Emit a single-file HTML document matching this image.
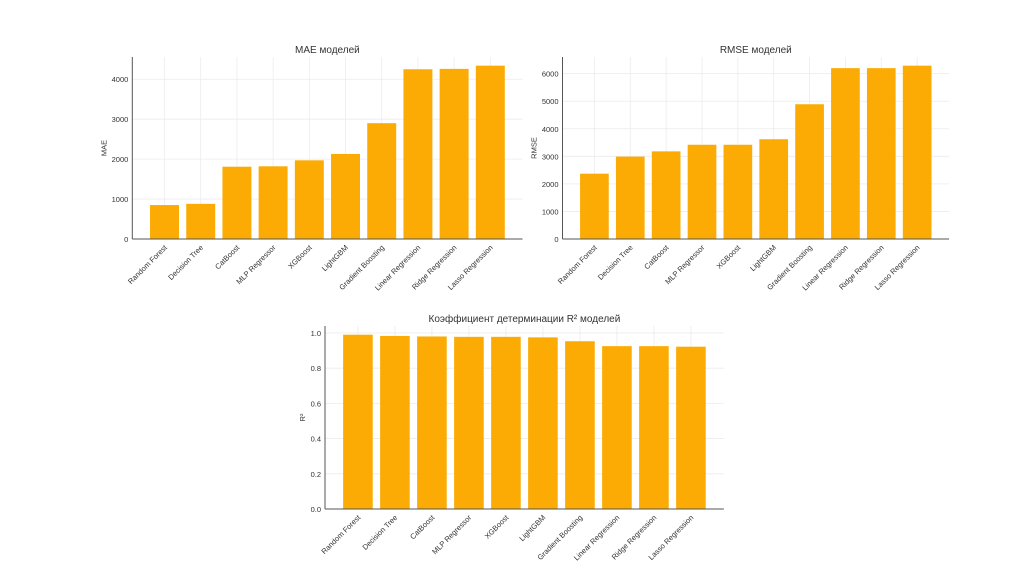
<!DOCTYPE html>
<html><head><meta charset="utf-8"><style>
html,body{margin:0;padding:0;background:#fff;}
svg{display:block;font-family:"Liberation Sans","DejaVu Sans",sans-serif;}
</style></head><body>
<svg id="svg" width="1024" height="574" viewBox="0 0 1024 574"></svg>
<script>
const categories = ["Random Forest","Decision Tree","CatBoost","MLP Regressor","XGBoost","LightGBM","Gradient Boosting","Linear Regression","Ridge Regression","Lasso Regression"];
const maeValues = [850,880,1810,1820,1970,2130,2900,4250,4260,4340];
const rmseValues = [2370,2990,3180,3420,3420,3620,4890,6200,6200,6290];
const r2Values = [0.990,0.983,0.980,0.978,0.978,0.975,0.953,0.925,0.925,0.922];
const maeTicks = [0,1000,2000,3000,4000];
const rmseTicks = [0,1000,2000,3000,4000,5000,6000];
const r2Ticks = [0,0.2,0.4,0.6,0.8,1.0];
const r2TickLabels = ["0.0","0.2","0.4","0.6","0.8","1.0"];

const NS="http://www.w3.org/2000/svg";
const svg=document.getElementById('svg');
function mk(tag,attrs,parent){const e=document.createElementNS(NS,tag);for(const k in attrs)e.setAttribute(k,attrs[k]);(parent||svg).appendChild(e);return e;}

function chart(o){
  const g=mk('g',{});
  
  
  const ymax=Math.max(...o.values)*1.05;
  const y=v=>o.bottom-(v/ymax)*(o.bottom-o.top);
  const x=i=>o.left+(i+0.89)*o.step;
  const right=o.left+(categories.length-1+0.89*2)*o.step;
  // grid
  o.ticks.forEach((t,i)=>{
    const gl=mk('line',{x1:o.left,x2:right,y1:y(t),y2:y(t),stroke:'#ececec','stroke-width':0.8},g);
    
    
  });
  categories.forEach((c,i)=>{
    const gl=mk('line',{x1:x(i),x2:x(i),y1:o.top,y2:o.bottom,stroke:'#ececec','stroke-width':0.8},g);
    
    
  });
  // bars
  const bw=o.step*0.8;
  o.values.forEach((v,i)=>{
    const r=mk('rect',{x:x(i)-bw/2,y:y(v),width:bw,height:o.bottom-y(v),fill:'#fbab03'},g);
    
    
  });
  // axes
  const ax=mk('line',{x1:o.left,x2:o.left,y1:o.top,y2:o.bottom,stroke:'#555','stroke-width':1},g);
  
  
  const bx=mk('line',{x1:o.left,x2:right,y1:o.bottom,y2:o.bottom,stroke:'#555','stroke-width':1},g);
  
  
  o.ticks.forEach((t,i)=>{
    const tl=mk('text',{x:o.left-4,y:y(t)+3,'text-anchor':'end','font-size':7.5,fill:'#333'},g);
    tl.textContent=o.tickLabels?o.tickLabels[i]:String(t);
    
    
  });
  categories.forEach((c,i)=>{
    const tl=mk('text',{x:x(i)+3,y:o.bottom+9,'text-anchor':'end','font-size':7.5,fill:'#333',transform:`rotate(-45 ${x(i)+3} ${o.bottom+9})`},g);
    tl.textContent=c;
    
    
  });
  const t=mk('text',{x:(o.left+right)/2,y:o.top-4,'text-anchor':'middle','font-size':10,fill:'#333'},g);
  t.textContent=o.title;
  
  
  const yl=mk('text',{x:o.left-o.ylOff,y:(o.top+o.bottom)/2,'text-anchor':'middle','font-size':7.5,fill:'#333',transform:`rotate(-90 ${o.left-o.ylOff} ${(o.top+o.bottom)/2})`},g);
  yl.textContent=o.ylabel;
  
  
}
chart({name:'mae-chart',values:maeValues,ticks:maeTicks,left:132.3,top:57,bottom:239,step:36.2,title:'MAE моделей',ylabel:'MAE',ylOff:26});
chart({name:'rmse-chart',values:rmseValues,ticks:rmseTicks,left:562.5,top:57,bottom:239,step:35.86,title:'RMSE моделей',ylabel:'RMSE',ylOff:26});
chart({name:'r2-chart',values:r2Values,ticks:r2Ticks,tickLabels:r2TickLabels,left:325,top:326,bottom:509,step:37,title:'Коэффициент детерминации R² моделей',ylabel:'R²',ylOff:20});
</script>
</body></html>
